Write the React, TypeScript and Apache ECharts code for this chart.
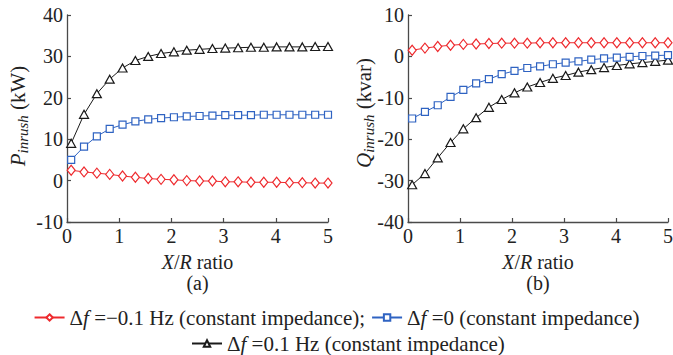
import React, { useEffect, useRef } from "react";
import * as echarts from "echarts";

// X/R ratio sample points
const xRatio = [0.08, 0.326, 0.572, 0.818, 1.064, 1.31, 1.556, 1.802, 2.048, 2.294, 2.54, 2.786, 3.032, 3.278, 3.524, 3.77, 4.016, 4.262, 4.508, 4.754, 5.0];

// (a) P_inrush (kW)
const pNeg = [2.5, 2.1, 1.8, 1.5, 1.1, 0.8, 0.5, 0.3, 0.2, 0.0, -0.1, -0.1, -0.3, -0.3, -0.4, -0.4, -0.4, -0.5, -0.5, -0.6, -0.6];
const pZero = [5.0, 8.2, 10.7, 12.5, 13.5, 14.3, 14.8, 15.1, 15.3, 15.5, 15.6, 15.7, 15.8, 15.8, 15.8, 15.9, 15.9, 15.9, 15.9, 15.9, 15.9];
const pPos = [9.0, 16.0, 21.0, 24.5, 27.2, 29.0, 30.0, 30.7, 31.1, 31.5, 31.7, 31.9, 32.0, 32.1, 32.2, 32.2, 32.3, 32.3, 32.3, 32.4, 32.4];

// (b) Q_inrush (kvar)
const qNeg = [1.5, 2.0, 2.4, 2.7, 2.9, 3.0, 3.1, 3.2, 3.2, 3.2, 3.3, 3.3, 3.3, 3.3, 3.3, 3.3, 3.3, 3.3, 3.3, 3.3, 3.3];
const qZero = [-15.0, -13.4, -11.8, -9.8, -8.1, -6.5, -5.5, -4.3, -3.5, -2.8, -2.4, -1.9, -1.5, -1.2, -0.8, -0.5, -0.3, -0.1, 0.1, 0.2, 0.3];
const qPos = [-31.0, -28.3, -24.5, -20.8, -17.5, -14.8, -12.3, -10.4, -8.8, -7.4, -6.3, -5.3, -4.6, -3.8, -3.2, -2.7, -2.2, -1.8, -1.5, -1.2, -0.9];

const xTicks = [0, 5, 1];
const pTicks = [-10, 40, 10];
const qTicks = [-40, 10, 10];

const seriesNames = ["neg", "zero", "pos"];
const legendTexts: Record<string, string> = {
  neg: "{n|Δ}{i|f}{n| =−0.1 Hz (constant impedance);}",
  zero: "{n|Δ}{i|f}{n| =0 (constant impedance)}",
  pos: "{n|Δ}{i|f}{n| =0.1 Hz (constant impedance)}",
};

const FAM = "Liberation Serif";
const RED = "#ee2a2e";
const BLUE = "#2f63c2";
const BLACK = "#1a1a1a";
const AXIS = "#4a4a4a";
const TXT = "#222";

export default function App() {
  const ref = useRef<HTMLDivElement>(null);
  useEffect(() => {
    if (!ref.current) return;
    const chart = echarts.init(ref.current, undefined, { renderer: "svg" });

    const pair = (ys: number[]) => xRatio.map((x, i) => [x, ys[i]]);
    const styles = [
      { color: RED, symbol: "diamond", size: [8, 10] },
      { color: BLUE, symbol: "rect", size: 7 },
      { color: BLACK, symbol: "triangle", size: [9, 8] },
    ];
    const mk = (idx: number, data: number[], grid: number) => {
      const s = styles[idx];
      return {
        type: "line",
        name: seriesNames[idx],
        xAxisIndex: grid,
        yAxisIndex: grid,
        data: pair(data),
        symbol: s.symbol,
        symbolSize: s.size,
        showAllSymbol: true,
        clip: false,
        lineStyle: { color: s.color, width: 1 },
        itemStyle: { color: "#fff", borderColor: s.color, borderWidth: 1.2 },
        emphasis: { disabled: true },
        z: 3 - idx + 2,
      };
    };

    const axisCommon = {
      axisLine: { show: true, onZero: false, lineStyle: { color: AXIS, width: 1.3 } },
      axisTick: { show: true, inside: true, length: 4, lineStyle: { color: AXIS, width: 1.2 } },
      splitLine: { show: false },
      axisLabel: { fontFamily: FAM, fontSize: 20, color: TXT, margin: 4 },
    };

    const yTitle = (x: number, y: number, letter: string, unit: string) => ({
      type: "text",
      x,
      y,
      rotation: Math.PI / 2,
      style: {
        text: `{p|${letter}}{s|inrush}{n| (${unit})}`,
        align: "center",
        verticalAlign: "middle",
        fill: TXT,
        fontFamily: FAM,
        fontSize: 21,
        rich: {
          p: { fontFamily: FAM, fontStyle: "italic", fontSize: 21, lineHeight: 24, fill: TXT },
          s: { fontFamily: FAM, fontStyle: "italic", fontSize: 15, lineHeight: 13, verticalAlign: "bottom", fill: TXT },
          n: { fontFamily: FAM, fontSize: 21, lineHeight: 24, fill: TXT },
        },
      },
    });
    const xTitle = (x: number) => ({
      type: "text",
      x,
      y: 262,
      style: {
        text: "{i|X}{n|/}{i|R}{n| ratio}",
        align: "center",
        verticalAlign: "middle",
        fill: TXT,
        fontFamily: FAM,
        fontSize: 20,
        rich: {
          i: { fontFamily: FAM, fontStyle: "italic", fontSize: 20, lineHeight: 16, fill: TXT },
          n: { fontFamily: FAM, fontSize: 20, lineHeight: 16, fill: TXT },
        },
      },
    });
    const capt = (x: number, t: string) => ({
      type: "text",
      x,
      y: 283,
      style: { text: t, align: "center", verticalAlign: "middle", fontFamily: FAM, fontSize: 20, lineHeight: 16, fill: TXT },
    });

    const legendRich = {
      n: { fontFamily: FAM, fontSize: 21, color: TXT, lineHeight: 22 },
      i: { fontFamily: FAM, fontSize: 21, fontStyle: "italic", color: TXT, lineHeight: 22 },
    };
    const legendCommon = {
      orient: "horizontal",
      itemWidth: 30,
      itemHeight: 8,
      itemGap: 6,
      padding: 0,
      selectedMode: false,
      formatter: (name: string) => legendTexts[name],
      textStyle: { fontFamily: FAM, fontSize: 21, color: TXT, rich: legendRich },
    };

    chart.setOption({
      animation: false,
      backgroundColor: "#fff",
      grid: [
        { left: 67, top: 15, width: 261, height: 207, outerBoundsMode: "none" },
        { left: 408, top: 15, width: 260, height: 207, outerBoundsMode: "none" },
      ],
      xAxis: [0, 1].map((g) => ({
        type: "value",
        gridIndex: g,
        min: xTicks[0],
        max: xTicks[1],
        interval: xTicks[2],
        ...axisCommon,
      })),
      yAxis: [
        { type: "value", gridIndex: 0, min: pTicks[0], max: pTicks[1], interval: pTicks[2], ...axisCommon },
        { type: "value", gridIndex: 1, min: qTicks[0], max: qTicks[1], interval: qTicks[2], ...axisCommon },
      ],
      legend: [
        { ...legendCommon, data: ["neg", "zero"], left: "center", top: 307 },
        { ...legendCommon, data: ["pos"], left: 191, top: 333 },
      ],
      graphic: [
        yTitle(18, 116, "P", "kW"),
        yTitle(364, 113, "Q", "kvar"),
        xTitle(197.5),
        xTitle(538),
        capt(197.5, "(a)"),
        capt(538, "(b)"),
      ],
      series: [
        mk(0, pNeg, 0),
        mk(1, pZero, 0),
        mk(2, pPos, 0),
        mk(0, qNeg, 1),
        mk(1, qZero, 1),
        mk(2, qPos, 1),
      ],
    });
    return () => chart.dispose();
  }, []);
  return (
    <div
      ref={ref}
      style={{ position: "absolute", left: 0, top: 0, width: 673, height: 355, background: "#fff" }}
    />
  );
}
